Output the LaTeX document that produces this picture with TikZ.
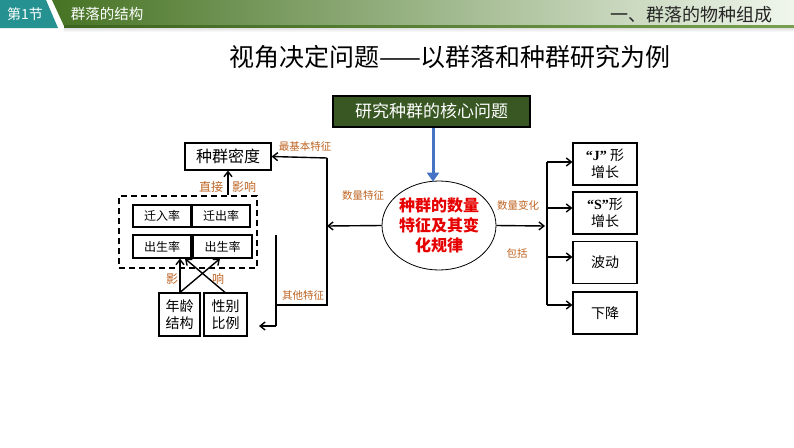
\documentclass[tikz,border=0pt]{standalone}
\usepackage{fontspec}
\setmainfont{Noto Sans CJK SC}
\newfontfamily\latin{Liberation Serif}
\usetikzlibrary{shapes.geometric,arrows.meta}
\definecolor{labelbrown}{RGB}{190,100,35}
\definecolor{coregreen}{RGB}{56,87,35}
\definecolor{tealhead}{RGB}{38,145,145}
\definecolor{arrowblue}{RGB}{68,114,196}
\definecolor{lawred}{RGB}{230,0,0}
\definecolor{banddark}{RGB}{70,115,35}
\definecolor{bandmid}{RGB}{160,200,120}
\definecolor{bandlight}{RGB}{240,246,236}
\definecolor{linedark}{RGB}{60,100,30}
\definecolor{linelight}{RGB}{120,160,80}
\newcommand{\fs}[1]{\fontsize{#1pt}{\dimexpr #1pt*5/4\relax}\selectfont}
\tikzset{
  box/.style={draw,line width=1.2pt,inner sep=0pt,align=center},
  lbl/.style={text=labelbrown,font=\fs{10.5}},
  conn/.style={line width=1.4pt,-{Straight Barb[length=5pt,width=8pt]}},
  line/.style={line width=1.4pt}
}
\begin{document}
\begin{tikzpicture}[x=1pt,y=-1pt]
    \useasboundingbox (0,0) rectangle (794,447);
    % header band
    \shade[left color=banddark,middle color=bandmid,right color=bandlight]
        (52,0) -- (794,0) -- (794,26) -- (64,26) -- cycle;
    \fill[tealhead] (0,0) -- (46,0) -- (58,28) -- (0,28) -- cycle;
    \shade[left color=linedark,right color=linelight] (64,25) rectangle (794,28);
    \shade[top color=black!12,bottom color=white] (64,28) rectangle (794,32);
    \node[text=white,font=\fs{14}] (sec) at (25,14) {第1节};
    \node[text=white,font=\fs{14.5}] (chap) at (107,14) {群落的结构};
    \node[text=black!85,font=\fs{18}] (part) at (691,15) {一、群落的物种组成};
    % title
    \node[font=\fs{25}] (title) at (450,57) {视角决定问题——以群落和种群研究为例};

    % centre
    \node[box,fill=coregreen,text=white,font=\fs{17},minimum width=197pt,minimum height=31pt] (core) at (431.5,111.5) {研究种群的核心问题};
    \node[draw,thick,ellipse,minimum width=114pt,minimum height=89pt,inner sep=0pt,align=center,text=lawred,font=\bfseries\fs{16}] (law) at (439,225.5) {种群的数量\\特征及其变\\化规律};
    \coordinate (cx) at (433,0);
    \draw[arrowblue,line width=3pt,-{Triangle[length=9pt,width=12pt]}] (cx |- core.south) -- ([yshift=-1pt]cx |- law.north);

    % left part
    \node[box,font=\fs{16},minimum width=86pt,minimum height=27pt] (dens) at (228,156.5) {种群密度};
    \node[draw,line width=1.4pt,dash pattern=on 6pt off 4pt,minimum width=138pt,minimum height=72pt] (rates) at (188,232) {};
    \node[box,font=\fs{12},minimum width=58pt,minimum height=22pt] (inr) at (162,216) {迁入率};
    \node[box,font=\fs{12},minimum width=58pt,minimum height=22pt] (outr) at (221,216) {迁出率};
    \node[box,font=\fs{12},minimum width=58pt,minimum height=23pt] (birth) at (162,246.5) {出生率};
    \node[box,font=\fs{12},minimum width=59pt,minimum height=23pt] (death) at (222.5,246.5) {出生率};
    \node[box,font=\fs{14},minimum width=41pt,minimum height=43pt] (age) at (179.5,314.5) {年龄\\结构};
    \node[box,font=\fs{14},minimum width=43pt,minimum height=43pt] (sex) at (225.5,314.5) {性别\\比例};

    \coordinate (ltop) at (327,158);
    \coordinate (lmid) at (327,226);
    \coordinate (lbot) at (327,305);
    \coordinate (ktop) at (276,235);
    \coordinate (kjoin) at (276,305);
    \coordinate (kbot) at (276,326);
    \coordinate (kend) at (259,326);
    \draw[line] (ltop) -- (lbot) -- (kjoin);
    \draw[line] (ktop) -- (kbot);
    \draw[conn] (ltop) -- (dens.east);
    \draw[conn] (kbot) -- (kend);
    \draw[conn] (law.west) -- (lmid);
    \coordinate (dx) at (228,0);
    \coordinate (ax) at (180,0);
    \coordinate (bx) at (185,0);
    \coordinate (ex) at (220,0);
    \coordinate (sx) at (225,0);
    \draw[conn] (dx |- rates.north) -- (dx |- dens.south);
    \draw[conn] (ax |- age.north) -- (ax |- birth.south);
    \draw[conn] (ax |- age.north) -- (ex |- death.south);
    \draw[conn] (sx |- sex.north) -- (bx |- birth.south);

    \node[lbl] (l1) at (305,147) {最基本特征};
    \node[lbl] (l2) at (363,196) {数量特征};
    \node[lbl] (l3) at (303,295) {其他特征};
    \node[lbl,font=\fs{12}] (l4) at (211,187) {直接};
    \node[lbl,font=\fs{12}] (l5) at (244,187) {影响};
    \node[lbl,font=\fs{12}] (l6) at (172,279) {影};
    \node[lbl,font=\fs{12}] (l7) at (218,279) {响};

    % right part
    \coordinate (rtop) at (547,162);
    \coordinate (rbot) at (547,305);
    \coordinate (rin) at (545,226);
    \draw[line] (rtop) -- (rbot);
    \draw[conn] (law.east) -- (rin);
    \foreach \n/\y/\t in {jg/164/{{\latin\bfseries “J”} 形\\增长}, sg/213/{{\latin\bfseries “S”}形\\增长}, wave/262.5/波动, down/313/下降} {
        \node[box,font=\fs{14},minimum width=64pt,minimum height=42pt] (\n) at (605,\y) {\t};
    }
    \foreach \n/\y in {jg/162,sg/208,wave/257,down/305} {
        \coordinate (\n-from) at (547,\y);
        \draw[conn] (\n-from) -- (\n.west |- \n-from);
    }
    \node[lbl] (l8) at (518,205) {数量变化};
    \node[lbl] (l9) at (517,253) {包括};
\end{tikzpicture}
\end{document}
